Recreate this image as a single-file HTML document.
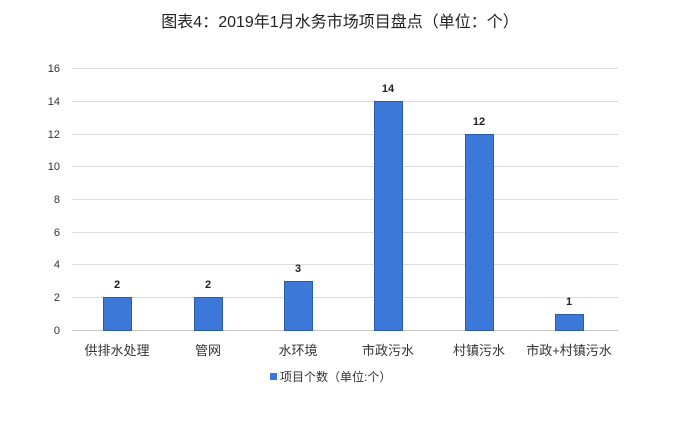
<!DOCTYPE html>
<html><head><meta charset="utf-8"><style>
body{margin:0;background:#fff;width:680px;height:427px;overflow:hidden}
</style></head><body>
<svg width="680" height="427" xmlns="http://www.w3.org/2000/svg" font-family="Liberation Sans, Noto Sans CJK SC, sans-serif">
<text x="340" y="27" text-anchor="middle" font-size="16" fill="#222">图表4：2019年1月水务市场项目盘点（单位：个）</text>
<g stroke="#dcdcdc" stroke-width="1">
<line x1="72" x2="618" y1="68.5" y2="68.5"/>
<line x1="72" x2="618" y1="101.5" y2="101.5"/>
<line x1="72" x2="618" y1="134.5" y2="134.5"/>
<line x1="72" x2="618" y1="166.5" y2="166.5"/>
<line x1="72" x2="618" y1="199.5" y2="199.5"/>
<line x1="72" x2="618" y1="232.5" y2="232.5"/>
<line x1="72" x2="618" y1="264.5" y2="264.5"/>
<line x1="72" x2="618" y1="297.5" y2="297.5"/>
</g>
<line x1="72" x2="618" y1="330.5" y2="330.5" stroke="#c8c8c8"/>
<g font-size="11" fill="#333" text-anchor="end">
<text x="60" y="72">16</text><text x="60" y="105">14</text><text x="60" y="138">12</text><text x="60" y="170">10</text>
<text x="60" y="203">8</text><text x="60" y="236">6</text><text x="60" y="268">4</text><text x="60" y="301">2</text><text x="60" y="334">0</text>
</g>
<g fill="#3b78d8" stroke="#2a5aa8" stroke-width="1">
<rect x="103.5" y="297.5" width="28" height="33"/>
<rect x="194.5" y="297.5" width="28" height="33"/>
<rect x="284.5" y="281.5" width="28" height="49"/>
<rect x="374.5" y="101.5" width="28" height="229"/>
<rect x="465.5" y="134.5" width="28" height="196"/>
<rect x="555.5" y="314.5" width="28" height="16"/>
</g>
<g font-size="11" font-weight="bold" fill="#222" text-anchor="middle">
<text x="117" y="288">2</text><text x="208" y="288">2</text><text x="298" y="272">3</text>
<text x="388" y="92">14</text><text x="479" y="125">12</text><text x="569" y="305">1</text>
</g>
<g font-size="13" fill="#333" text-anchor="middle">
<text x="117" y="355">供排水处理</text><text x="208" y="355">管网</text><text x="298" y="355">水环境</text>
<text x="388" y="355">市政污水</text><text x="479" y="355">村镇污水</text><text x="569" y="355">市政+村镇污水</text>
</g>
<rect x="270" y="373" width="7" height="7" fill="#3b78d8"/>
<text x="280" y="381" font-size="12" fill="#333">项目个数（单位:个）</text>
</svg>
</body></html>
